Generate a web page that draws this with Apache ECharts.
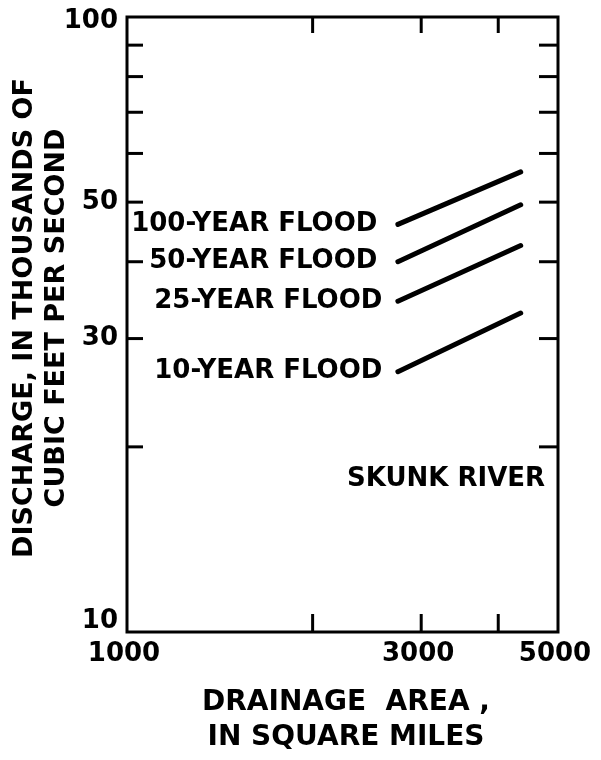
<!DOCTYPE html>
<html>
<head>
<meta charset="utf-8">
<script src="https://cdn.jsdelivr.net/npm/echarts@6/dist/echarts.min.js"></script>
<style>
html, body { margin: 0; padding: 0; background: #fff; }
#chart { width: 601px; height: 760px; }
</style>
</head>
<body>
<div id="chart"></div>
<script>
// drainage area (sq mi) at the two ends of each curve
var areaEnds = [2750, 4350];
// discharge, thousands of cfs
var flood100 = [46, 56];
var flood50 = [40, 49.5];
var flood25 = [34.5, 42.5];
var flood10 = [26.5, 33];
var floodNames = ['100-YEAR FLOOD', '50-YEAR FLOOD', '25-YEAR FLOOD', '10-YEAR FLOOD'];

var xTicks = [2000, 3000, 4000];
var yTicks = [20, 30, 40, 50, 60, 70, 80, 90];
var xTickLabels = [1000, 3000, 5000];
var yTickLabels = [10, 30, 50, 100];

var xMin = 1000, xMax = 5000, yMin = 10, yMax = 100;
var FONT = 'bold 26px "DejaVu Sans"';

function pairs(ys) {
    return areaEnds.map(function (x, i) { return [x, ys[i]]; });
}

function floodSeries(name, ys, gap) {
    return {
        name: name,
        type: 'line',
        data: pairs(ys),
        symbol: 'circle',
        symbolSize: 1,
        showSymbol: true,
        itemStyle: { color: '#000' },
        lineStyle: { color: '#000', width: 5, cap: 'round' },
        label: {
            show: true,
            position: 'left',
            distance: gap,
            color: '#000',
            fontFamily: 'DejaVu Sans',
            fontWeight: 'bold',
            fontSize: 26,
            formatter: function (p) { return p.dataIndex === 0 ? name : ''; }
        },
        emphasis: { disabled: true },
        silent: true
    };
}

var tickStyle = { stroke: '#000', lineWidth: 3 };
var TL = 16;

var chart = echarts.init(document.getElementById('chart'));
chart.setOption({
    backgroundColor: '#fff',
    animation: false,
    grid: {
        left: 127, right: 43, top: 17, bottom: 128,
        show: true, borderColor: '#000', borderWidth: 3, backgroundColor: 'transparent'
    },
    xAxis: {
        type: 'log', logBase: 10, min: xMin, max: xMax,
        axisLine: { show: false }, axisTick: { show: false },
        axisLabel: { show: false }, splitLine: { show: false }
    },
    yAxis: {
        type: 'log', logBase: 10, min: yMin, max: yMax,
        axisLine: { show: false }, axisTick: { show: false },
        axisLabel: { show: false }, splitLine: { show: false }
    },
    series: [
        floodSeries(floodNames[0], flood100, 20),
        floodSeries(floodNames[1], flood50, 20),
        floodSeries(floodNames[2], flood25, 15),
        floodSeries(floodNames[3], flood10, 15),
        {
            // x ticks, bottom and top, pointing inward
            type: 'custom', clip: false, silent: true,
            data: xTicks.map(function (v) { return [v, yMin]; }),
            encode: { x: 0, y: 1 },
            renderItem: function (params, api) {
                var b = api.coord([api.value(0), yMin]);
                var t = api.coord([api.value(0), yMax]);
                return { type: 'group', children: [
                    { type: 'line', shape: { x1: b[0], y1: b[1], x2: b[0], y2: b[1] - TL - 2 }, style: tickStyle },
                    { type: 'line', shape: { x1: t[0], y1: t[1], x2: t[0], y2: t[1] + TL }, style: tickStyle }
                ] };
            }
        },
        {
            // y ticks, left and right
            type: 'custom', clip: false, silent: true,
            data: yTicks.map(function (v) { return [xMin, v]; }),
            encode: { x: 0, y: 1 },
            renderItem: function (params, api) {
                var l = api.coord([xMin, api.value(1)]);
                var r = api.coord([xMax, api.value(1)]);
                return { type: 'group', children: [
                    { type: 'line', shape: { x1: l[0], y1: l[1], x2: l[0] + TL, y2: l[1] }, style: tickStyle },
                    { type: 'line', shape: { x1: r[0], y1: r[1], x2: r[0] - TL - 3, y2: r[1] }, style: tickStyle }
                ] };
            }
        },
        {
            // x tick labels
            type: 'custom', clip: false, silent: true,
            data: xTickLabels.map(function (v) { return [v, yMin]; }),
            encode: { x: 0, y: 1 },
            renderItem: function (params, api) {
                var p = api.coord([api.value(0), yMin]);
                return { type: 'text', x: p[0] - 3, y: p[1] + 22,
                    style: { text: String(api.value(0)), font: FONT, fill: '#000', align: 'center', verticalAlign: 'middle' } };
            }
        },
        {
            // y tick labels
            type: 'custom', clip: false, silent: true,
            data: yTickLabels.map(function (v) { return [xMin, v]; }),
            encode: { x: 0, y: 1 },
            renderItem: function (params, api) {
                var v = api.value(1);
                var p = api.coord([xMin, v]);
                var dy = v === yMin ? 2 : (v === yMax ? 4 : 0);
                return { type: 'text', x: p[0] - 9, y: p[1] + dy,
                    style: { text: String(v), font: FONT, fill: '#000', align: 'right',
                        verticalAlign: v === yMin ? 'bottom' : 'middle' } };
            }
        }
    ],
    graphic: [
        {
            type: 'text', left: 347, top: 466,
            style: { text: 'SKUNK RIVER', font: FONT, fill: '#000' }
        },
        {
            type: 'text', x: 346, y: 720,
            style: { text: 'DRAINAGE  AREA ,\nIN SQUARE MILES', font: 'bold 28px "DejaVu Sans"',
                fill: '#000', align: 'center', verticalAlign: 'middle', lineHeight: 35 }
        },
        {
            type: 'text', x: 41, y: 318, rotation: Math.PI / 2,
            style: { text: 'DISCHARGE, IN THOUSANDS OF\nCUBIC FEET PER SECOND', font: 'bold 27px "DejaVu Sans"',
                fill: '#000', align: 'center', verticalAlign: 'middle', lineHeight: 32 }
        }
    ]
});
</script>
</body>
</html>
